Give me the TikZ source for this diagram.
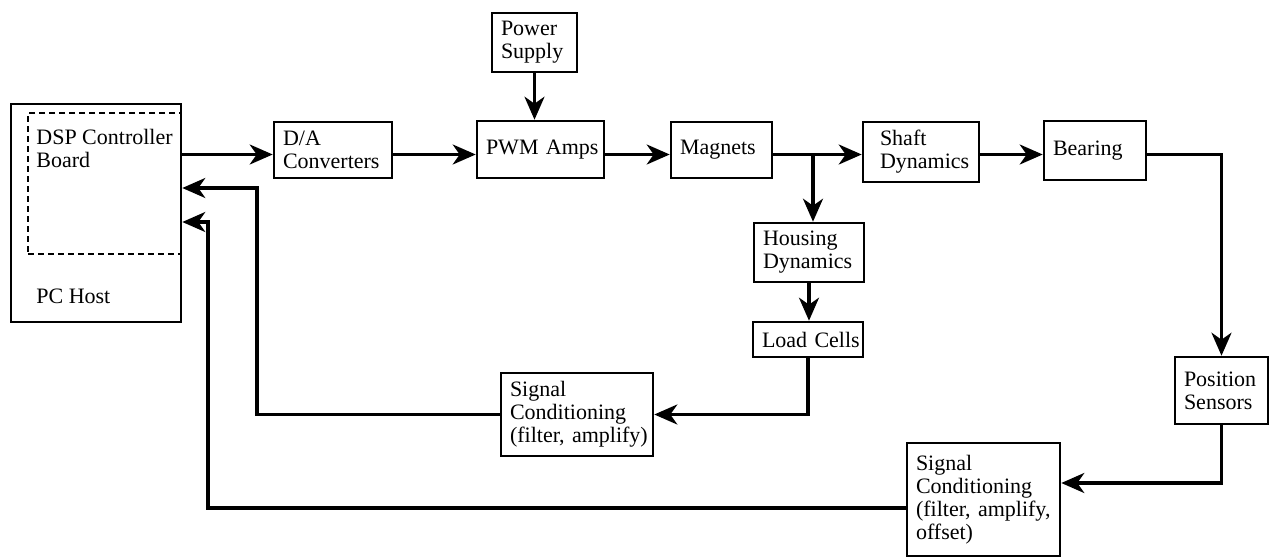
\documentclass[tikz,border=0pt]{standalone}
\usepackage{fontspec}
\setmainfont{Liberation Serif}
\usepackage{tikz}
\usetikzlibrary{arrows.meta, calc}
\hyphenpenalty=10000

\begin{document}
\begin{tikzpicture}[x=0.5pt, y=-0.5pt, >={Stealth[length=11.5pt, width=10pt, inset=3.5pt]},
  blockbox/.style={draw, line width=1.3pt, align=left, inner xsep=4.5pt, inner ysep=0pt, font=\fontsize{11}{11.5}\selectfont},
  dashbox/.style={draw, line width=1pt, dash pattern=on 3pt off 2pt, inner sep=0pt},
  txt/.style={inner sep=0pt, align=left, font=\fontsize{11}{11.5}\selectfont},
  arr/.style={->, line width=1.6pt},
  wire/.style={line width=1.6pt}]

\useasboundingbox (0,0) rectangle (1270,557);

% host computer
\node[draw, line width=1.3pt, minimum width=85pt, minimum height=109pt, inner sep=0pt] (pc) at (96,213) {};
\node[dashbox, minimum width=76.5pt, minimum height=70.5pt] (dsp) at (104.5,183.5) {};
\node[txt, anchor=north west] (dsptext) at (36,129) {DSP Controller\\Board};
\node[txt, anchor=base west] (pctext) at (36,303) {PC Host};

% forward path
\node[blockbox, text width=50pt, minimum height=28pt] (da) at (333,150) {D/A\\Converters};
\node[blockbox, text width=33.5pt, minimum height=29.5pt] (supply) at (534.5,42.5) {Power\\Supply};
\node[blockbox, text width=54.5pt, minimum height=28.5pt] (pwm) at (540.5,149.5) {PWM~Amps};
\node[blockbox, text width=41.5pt, minimum height=28pt] (mag) at (721.5,150) {Magnets};
\node[blockbox, inner xsep=8.5pt, text width=41pt, minimum height=30pt] (shaft) at (921,152) {Shaft\\Dynamics};
\node[blockbox, text width=42pt, minimum height=29.5pt] (bear) at (1095,150.5) {Bearing};
\node[blockbox, text width=46pt, minimum height=29.5pt] (hous) at (809,252.5) {Housing\\Dynamics};
\node[blockbox, text width=46pt, minimum height=17.5pt] (load) at (808,339.5) {Load~Cells};
\node[blockbox, text width=37.5pt, minimum height=33.5pt] (pos) at (1221.5,390.5) {Position\\Sensors};

% feedback
\node[blockbox, text width=67pt, minimum height=41.5pt] (cond1) at (577,414.5) {Signal\\Conditioning\\(filter,~amplify)};
\node[blockbox, text width=67.5pt, minimum height=56.5pt] (cond2) at (983.5,499.5) {Signal\\Conditioning\\(filter,~amplify,\\offset)};

\coordinate (main) at (0,154.5);
\coordinate (split) at (813,154.5);
\coordinate (fb1) at (257,188);
\coordinate (fb2) at (208,222);

\draw[arr] (pc.east |- main) -- (da.west |- main);
\draw[arr] (da.east |- main) -- (pwm.west |- main);
\draw[arr] (supply.south) -- (supply.south |- pwm.north);
\draw[arr] (pwm.east |- main) -- (mag.west |- main);
\draw[wire] (mag.east |- main) -- (split);
\draw[arr] (split) -- (shaft.west |- main);
\draw[arr] (split) -- (split |- hous.north);
\draw[arr] (shaft.east |- main) -- (bear.west |- main);
\draw[arr] (bear.east |- main) -| (pos.north);
\draw[arr] (hous.south) -- (hous.south |- load.north);
\draw[arr] (load.south) |- (cond1.east);
\draw[arr] (cond1.west) -| (fb1) -- (fb1 -| pc.east);
\draw[arr] (pos.south) |- ([yshift=8.25pt]cond2.east);
\draw[arr] ([yshift=-4.25pt]cond2.west) -| (fb2) -- (fb2 -| pc.east);

\end{tikzpicture}
\end{document}
